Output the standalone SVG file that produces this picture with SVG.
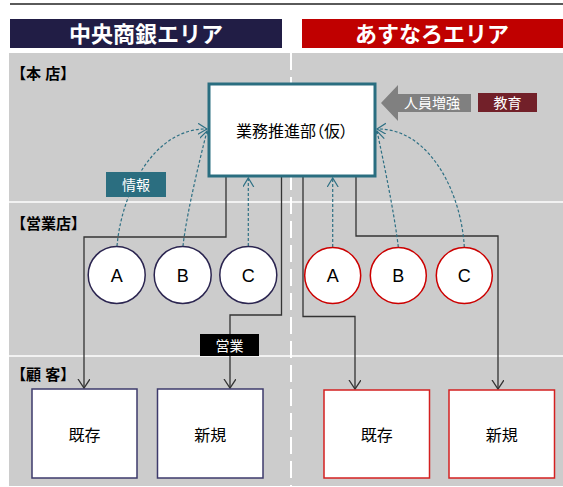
<svg xmlns="http://www.w3.org/2000/svg" width="563" height="487" viewBox="0 0 563 487">
<style>
text{font-family:"Liberation Sans","Noto Sans CJK JP",sans-serif}
.hdr{font-size:22px;font-weight:bold;fill:#fff;text-anchor:middle}
.sec{font-size:15px;font-weight:bold;fill:#000}
.lbl{font-size:14px;fill:#fff;text-anchor:middle}
.ltr{font-size:18px;fill:#000;text-anchor:middle}
.cust{font-size:16px;fill:#000;text-anchor:middle}
.cl{fill:#fff;stroke:#2b2550;stroke-width:1.5}
.cr{fill:#fff;stroke:#cc0000;stroke-width:1.5}
.bl{fill:#fff;stroke:#3d3a6b;stroke-width:1.5}
.br{fill:#fff;stroke:#d42020;stroke-width:1.5}
.solid{fill:none;stroke:#333;stroke-width:1.3;marker-end:url(#ah)}
.dash{fill:none;stroke:#2e7084;stroke-width:1.2;stroke-dasharray:3 2;marker-end:url(#th)}
</style>
<defs>
<marker id="ah" markerUnits="userSpaceOnUse" markerWidth="14" markerHeight="14" refX="9" refY="6" orient="auto">
<path d="M0,0 L9,6 L0,12" fill="none" stroke="#333" stroke-width="1.3"/>
</marker>
<marker id="th" markerUnits="userSpaceOnUse" markerWidth="14" markerHeight="14" refX="9" refY="5.5" orient="auto">
<path d="M0,0 L9,5.5 L0,11" fill="none" stroke="#2e7084" stroke-width="1.2"/>
</marker>
</defs>
<rect x="10" y="3" width="553" height="2" fill="#5a5a5a"/>
<g id="bg">
<rect x="9" y="53" width="554" height="433" fill="#cccccc"/>
<line x1="9" y1="202" x2="563" y2="202" stroke="#fff" stroke-width="1.5"/>
<line x1="9" y1="356" x2="563" y2="356" stroke="#fff" stroke-width="1.5"/>
<line x1="291" y1="53" x2="291" y2="486" stroke="#fff" stroke-width="2" stroke-dasharray="17 7"/>
</g>
<g id="header-left"><rect x="10" y="19" width="272" height="29" fill="#211d45"/><text class="hdr" x="146" y="42">中央商銀エリア</text></g>
<g id="header-right"><rect x="302" y="19" width="261" height="29" fill="#c00000"/><text class="hdr" x="432" y="42">あすなろエリア</text></g>
<text class="sec" x="11" y="79">【本 店】</text>
<text class="sec" x="11" y="229">【営業店】</text>
<text class="sec" x="11" y="380">【顧 客】</text>
<g id="connectors">
<path class="solid" d="M226,177 V237 H84 V388"/>
<path class="solid" d="M281.5,177 V315 H230 V388"/>
<path class="solid" d="M303,177 V316.5 H355 V389"/>
<path class="solid" d="M356,177 V236 H498 V389"/>
<path class="dash" d="M117,246 C122,190 155,128 207,129"/>
<path class="dash" d="M183,246 Q187,210 207,131"/>
<path class="dash" d="M248.3,246 V178"/>
<path class="dash" d="M332.7,247 V178"/>
<path class="dash" d="M398.3,247 Q394,210 377,131"/>
<path class="dash" d="M464.3,247 C461,190 428,128 377,129"/>
</g>
<g id="hq"><rect x="209" y="84" width="166" height="92" fill="#fff" stroke="#2a6e80" stroke-width="3"/><text x="292" y="137" style="font-size:16px;fill:#000;text-anchor:middle;font-feature-settings:'palt'">業務推進部（仮）</text></g>
<g id="staff"><polygon points="381,103 398,85 398,94 471,94 471,112 398,112 398,121" fill="#808080"/><text class="lbl" x="432" y="108">人員増強</text></g>
<g id="edu"><rect x="478" y="93" width="59" height="19" fill="#722029"/><text class="lbl" x="507.5" y="108">教育</text></g>
<g id="info"><rect x="106" y="172" width="60" height="25" fill="#2b6e80"/><text class="lbl" x="136" y="190">情報</text></g>
<g id="sales"><rect x="200" y="334" width="59" height="22" fill="#000"/><text class="lbl" x="229.5" y="351">営業</text></g>
<g id="L-A"><circle class="cl" cx="116.7" cy="275" r="28.5"/><text class="ltr" x="116.7" y="281.5">A</text></g>
<g id="L-B"><circle class="cl" cx="182.7" cy="275" r="28.5"/><text class="ltr" x="182.7" y="281.5">B</text></g>
<g id="L-C"><circle class="cl" cx="248.3" cy="275" r="28.5"/><text class="ltr" x="248.3" y="281.5">C</text></g>
<g id="R-A"><circle class="cr" cx="332.7" cy="275.5" r="28"/><text class="ltr" x="332.7" y="282">A</text></g>
<g id="R-B"><circle class="cr" cx="398.3" cy="275.5" r="28"/><text class="ltr" x="398.3" y="282">B</text></g>
<g id="R-C"><circle class="cr" cx="464.3" cy="275.5" r="28"/><text class="ltr" x="464.3" y="282">C</text></g>
<g id="L-existing"><rect class="bl" x="32" y="389" width="105" height="89"/><text class="cust" x="84.5" y="441">既存</text></g>
<g id="L-new"><rect class="bl" x="157.5" y="389" width="105.5" height="89"/><text class="cust" x="210.3" y="441">新規</text></g>
<g id="R-existing"><rect class="br" x="324" y="390" width="105.5" height="88"/><text class="cust" x="376.7" y="441">既存</text></g>
<g id="R-new"><rect class="br" x="449" y="390" width="105.5" height="88"/><text class="cust" x="501.7" y="441">新規</text></g>
</svg>
